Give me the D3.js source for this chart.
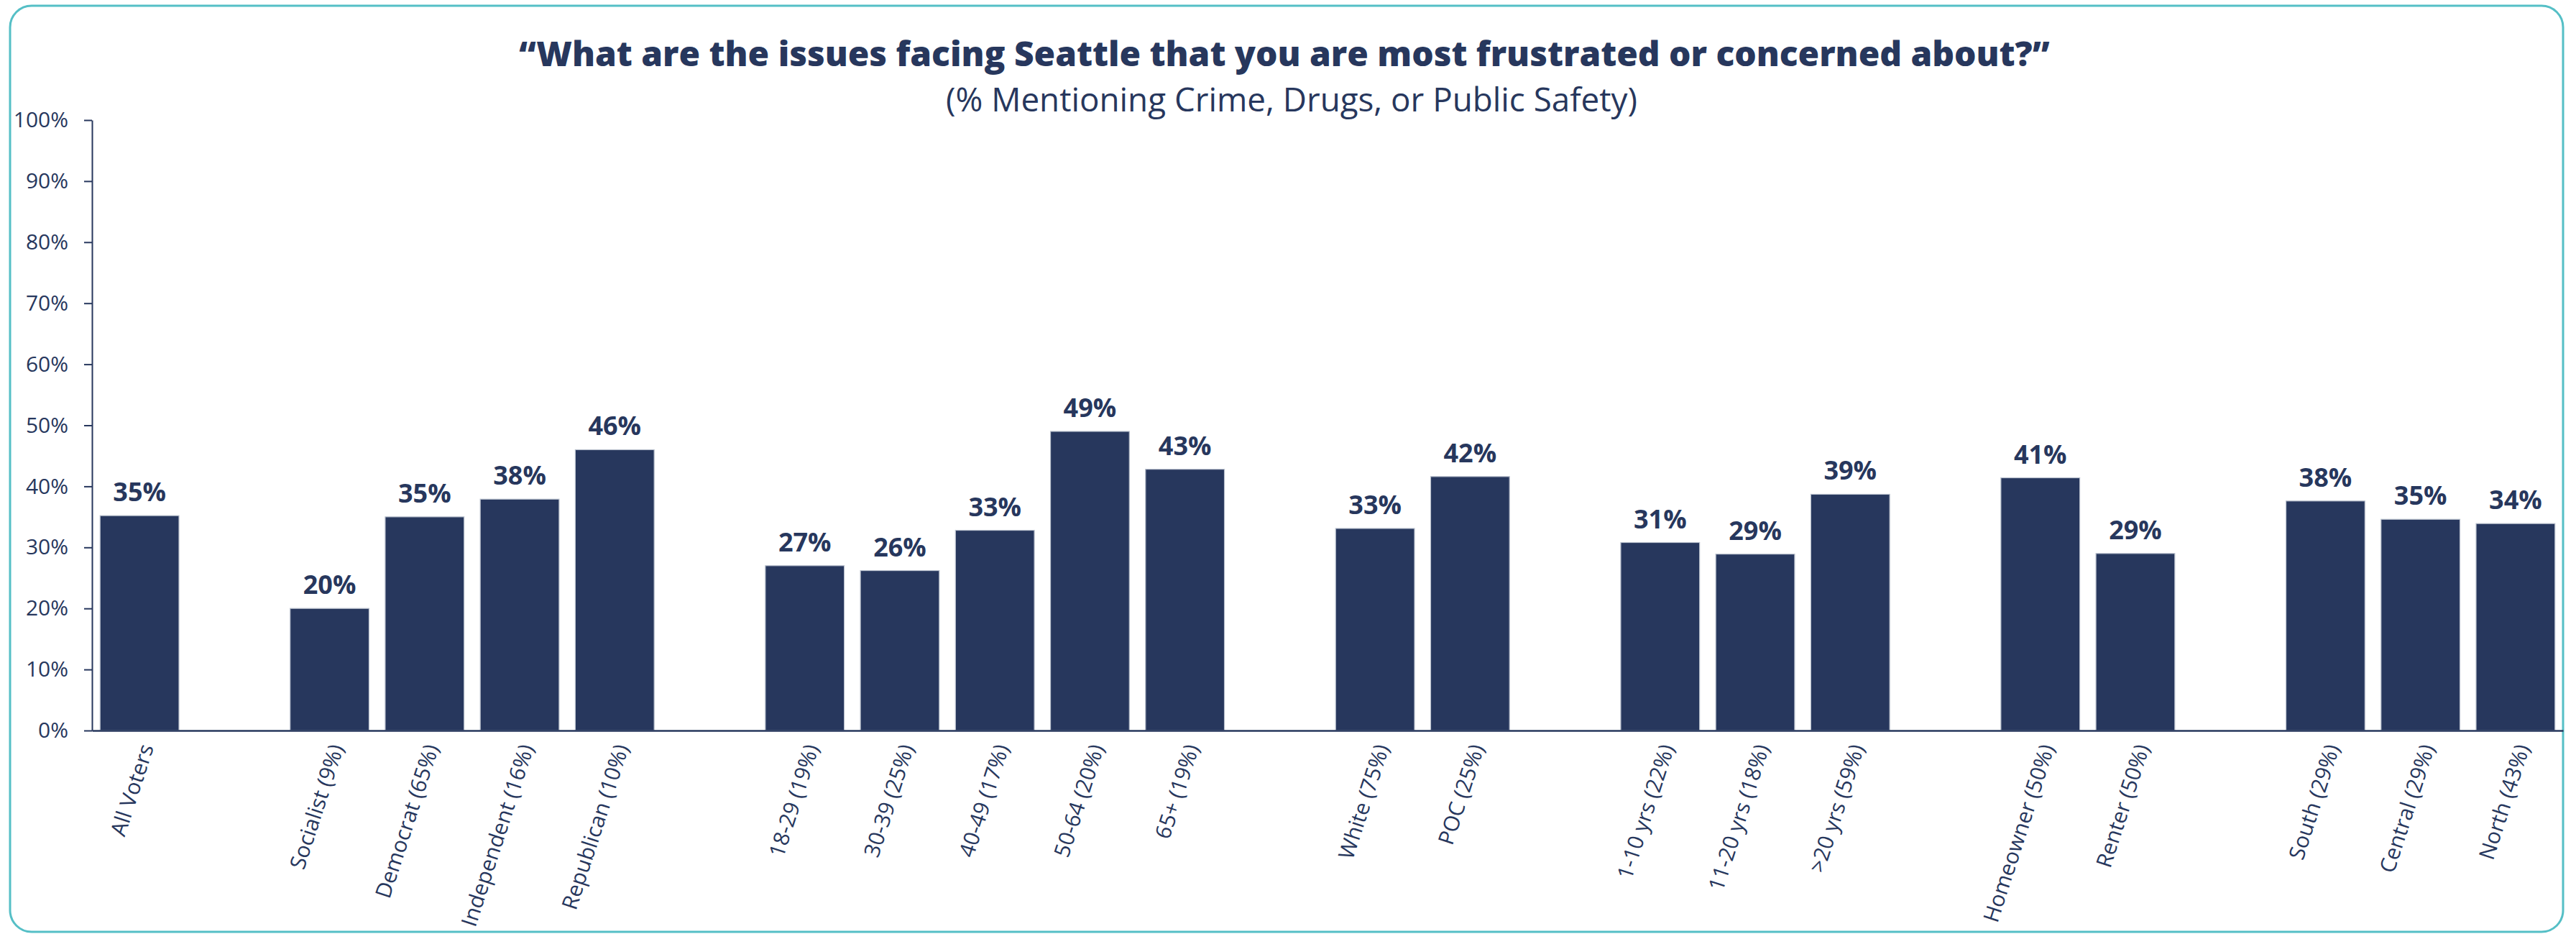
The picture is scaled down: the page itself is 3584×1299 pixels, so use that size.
<!DOCTYPE html>
<html>
<head>
<meta charset="utf-8">
<script src="https://cdn.jsdelivr.net/npm/d3@7"></script>
<style>
  html, body { margin: 0; padding: 0; background: #ffffff; }
  svg { display: block; }
  text { font-family: "Open Sans", "Noto Sans", sans-serif; fill: #27375d; }
</style>
</head>
<body>
<svg id="chart" width="3584" height="1299"></svg>
<script>
// ---------------- data ----------------
const titleText = "\u201cWhat are the issues facing Seattle that you are most frustrated or concerned about?\u201d";
const subtitleText = "(% Mentioning Crime, Drugs, or Public Safety)";

const groupAll = ["All Voters"];
const groupParty = ["Socialist (9%)", "Democrat (65%)", "Independent (16%)", "Republican (10%)"];
const groupAge = ["18-29 (19%)", "30-39 (25%)", "40-49 (17%)", "50-64 (20%)", "65+ (19%)"];
const groupRace = ["White (75%)", "POC (25%)"];
const groupTenure = ["1-10 yrs (22%)", "11-20 yrs (18%)", ">20 yrs (59%)"];
const groupHousing = ["Homeowner (50%)", "Renter (50%)"];
const groupRegion = ["South (29%)", "Central (29%)", "North (43%)"];

const values = [35.2, 20.0, 35.0, 37.9, 46.0, 27.0, 26.2, 32.8, 49.0, 42.8,
                33.1, 41.6, 30.8, 28.9, 38.7, 41.4, 29.0, 37.6, 34.6, 33.9];

const yTicks = [0, 10, 20, 30, 40, 50, 60, 70, 80, 90, 100];

// ---------------- build ----------------
const groups = [groupAll, groupParty, groupAge, groupRace, groupTenure, groupHousing, groupRegion];
const categories = groups.flat();
const domain = [];
groups.forEach((g, i) => {
  if (i > 0) domain.push("__gap" + i);
  g.forEach(c => domain.push(c));
});
const data = categories.map((c, i) => ({ cat: c, value: values[i] }));

const navy = "#27375d";
const svg = d3.select("#chart");

// border
svg.append("rect")
  .attr("x", 14).attr("y", 8)
  .attr("width", 3552).attr("height", 1288)
  .attr("rx", 30).attr("ry", 30)
  .attr("fill", "none")
  .attr("stroke", "#55bfc6")
  .attr("stroke-width", 3);

const x = d3.scaleBand()
  .domain(domain)
  .range([128, 3566])
  .paddingInner(0.17)
  .paddingOuter(0.085);

const y = d3.scaleLinear().domain([0, 100]).range([1016, 167]);

// title
function fitText(sel, targetWidth) {
  const node = sel.node();
  const fs = parseFloat(sel.attr("font-size"));
  const w = node.getComputedTextLength();
  if (w > 0) sel.attr("font-size", fs * targetWidth / w);
}
const title = svg.append("text")
  .attr("x", 1787).attr("y", 92)
  .attr("text-anchor", "middle")
  .attr("font-size", 48)
  .attr("font-weight", 800)
  .text(titleText);
fitText(title, 2130);

const subtitle = svg.append("text")
  .attr("x", 1797).attr("y", 155)
  .attr("text-anchor", "middle")
  .attr("font-size", 40)
  .text(subtitleText);
fitText(subtitle, 962);

// bars
svg.append("g").selectAll("rect")
  .data(data)
  .join("rect")
  .attr("x", d => x(d.cat))
  .attr("y", d => y(d.value))
  .attr("width", x.bandwidth())
  .attr("height", d => y(0) - y(d.value))
  .attr("fill", navy)
  .attr("stroke", "#b9c0cd")
  .attr("stroke-width", 1.2);

// value labels
svg.append("g").selectAll("text")
  .data(data)
  .join("text")
  .attr("x", d => x(d.cat) + x.bandwidth() / 2)
  .attr("y", d => y(d.value) - 20)
  .attr("text-anchor", "middle")
  .attr("font-size", 36)
  .attr("font-weight", 700)
  .text(d => d3.format(".0f")(d.value) + "%");

// y axis
const yAxis = svg.append("g")
  .attr("transform", "translate(128,0)")
  .call(d3.axisLeft(y).tickValues(yTicks).tickFormat(d => d + "%")
        .tickSizeInner(11).tickSizeOuter(0).tickPadding(22));
yAxis.select(".domain").attr("stroke", navy).attr("stroke-width", 2);
yAxis.selectAll(".tick line").attr("stroke", navy).attr("stroke-width", 2);
yAxis.selectAll(".tick text")
  .attr("font-size", 30)
  .attr("font-family", "'Open Sans', 'Noto Sans', sans-serif")
  .attr("fill", navy);

// x axis
const xAxis = svg.append("g")
  .attr("transform", "translate(0,1016)")
  .call(d3.axisBottom(x).tickSizeInner(0).tickSizeOuter(0)
        .tickFormat(d => d.startsWith("__gap") ? "" : d));
xAxis.select(".domain").attr("stroke", navy).attr("stroke-width", 2.5);
xAxis.selectAll(".tick text")
  .attr("x", 0).attr("y", 0).attr("dy", "0.35em")
  .attr("text-anchor", "end")
  .attr("transform", "translate(10,20) rotate(-72)")
  .attr("font-size", 30)
  .attr("font-family", "'Open Sans', 'Noto Sans', sans-serif")
  .attr("fill", navy);
</script>
</body>
</html>
